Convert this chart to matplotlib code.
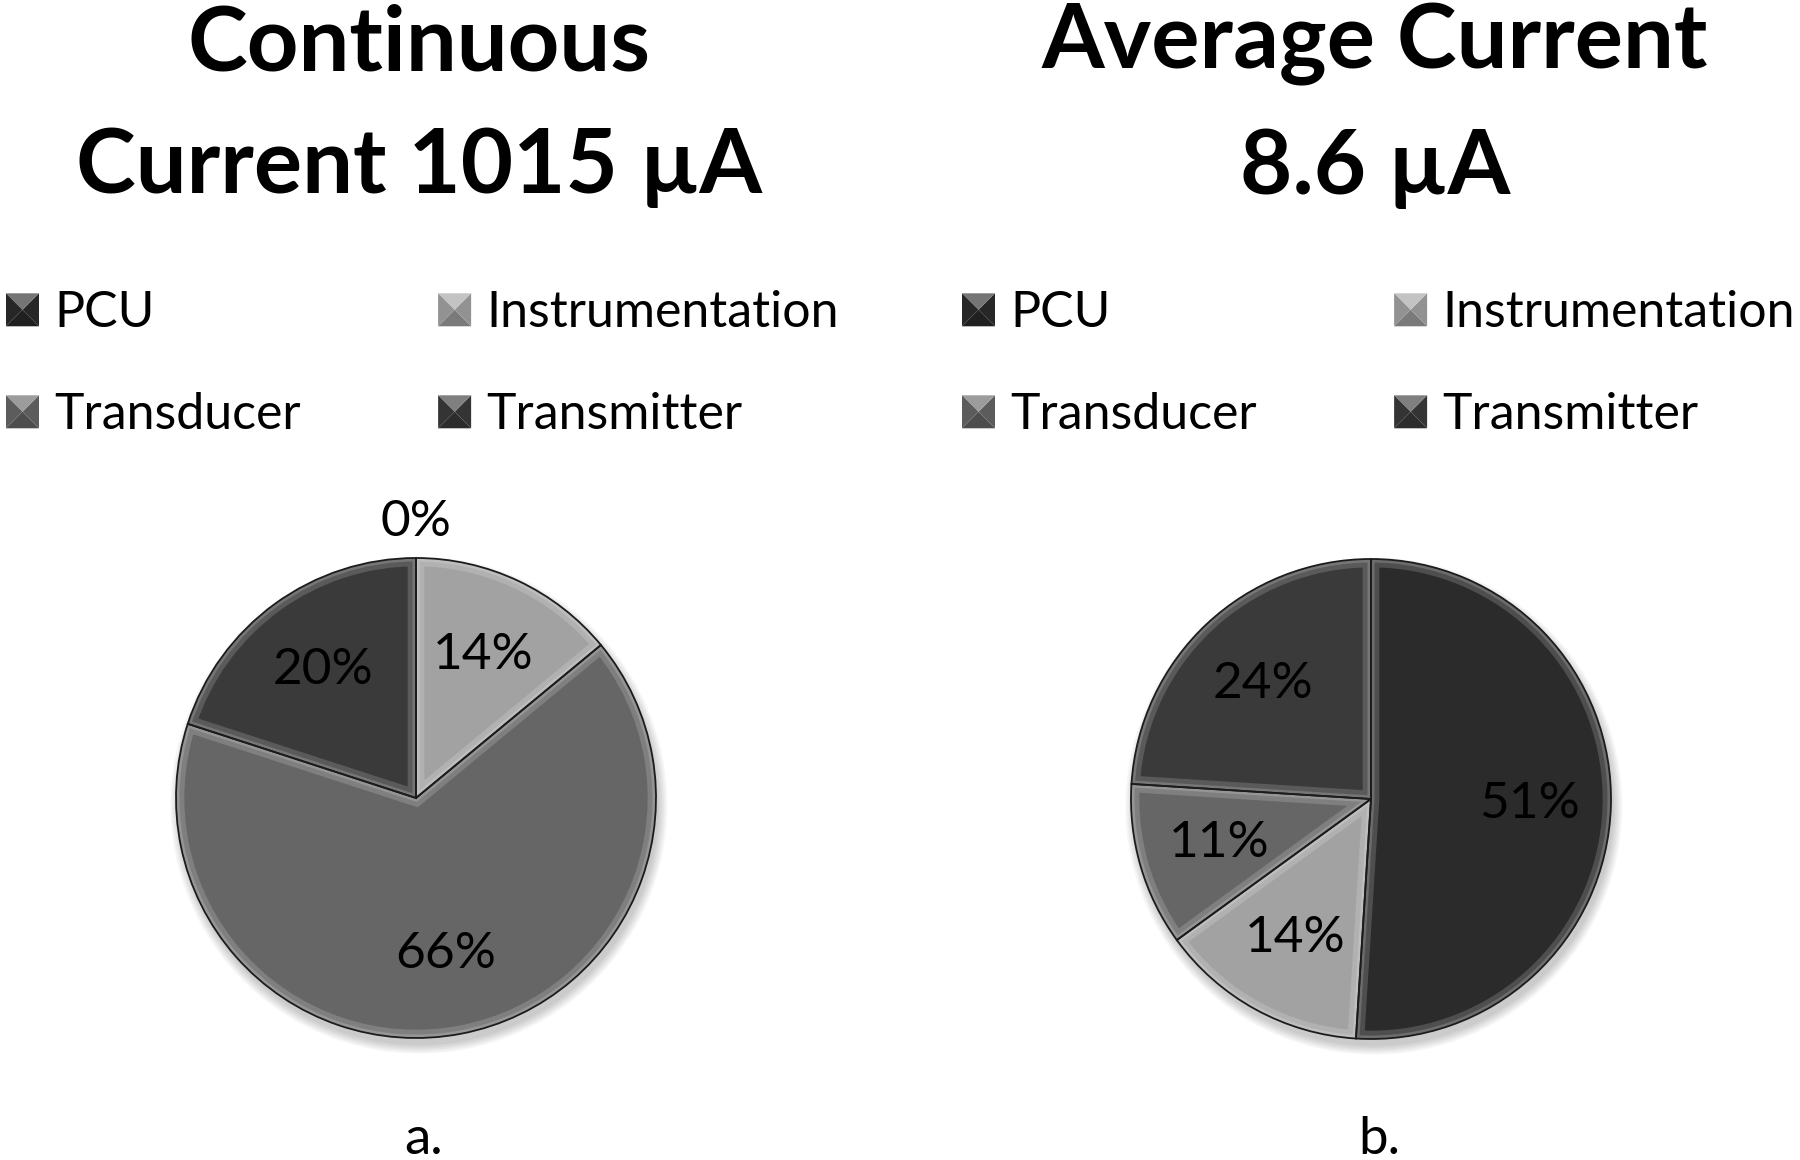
import matplotlib.pyplot as plt
from matplotlib.patches import Wedge, Polygon, Patch, Circle
from matplotlib.legend_handler import HandlerBase
from matplotlib.colors import to_rgb

plt.rcParams['font.family'] = ['Lato', 'DejaVu Sans']

labels = ["PCU", "Instrumentation", "Transducer", "Transmitter"]
continuous_pct = [0, 14, 66, 20]
average_pct = [51, 14, 11, 24]
colors = ["#2b2b2b", "#a2a2a2", "#666666", "#3a3a3a"]

titles = ["Continuous\nCurrent 1015 µA", "Average Current\n8.6 µA"]
captions = ["a.", "b."]


def mix(c, other, f):
    a = to_rgb(c)
    b = to_rgb(other)
    return tuple(a[i] * (1 - f) + b[i] * f for i in range(3))


class PyramidHandler(HandlerBase):
    # square legend key with the bevelled "pyramid" look
    def create_artists(self, legend, orig_handle, xdescent, ydescent,
                       width, height, fontsize, trans):
        c = orig_handle.get_facecolor()
        x0, y0 = -xdescent, -ydescent
        s = min(width, height)
        x0 = x0 + (width - s) / 2
        cx, cy = x0 + s / 2, y0 + s / 2
        corners = [(x0, y0), (x0 + s, y0), (x0 + s, y0 + s), (x0, y0 + s)]
        shades = [mix(c, 'black', 0.25), mix(c, 'black', 0.1),
                  mix(c, 'white', 0.35), mix(c, 'black', 0.1)]
        arts = []
        for i in range(4):
            p = Polygon([corners[i], corners[(i + 1) % 4], (cx, cy)],
                        closed=True, facecolor=shades[i], edgecolor='none',
                        transform=trans)
            arts.append(p)
        return arts


fig = plt.figure(figsize=(18, 11.6), dpi=100)

R_PX = 240
centers = [(416, 798), (1371, 799)]
title_x = [419, 1375]
legend_x = [6, 962]
all_values = [continuous_pct, average_pct]

for k in range(2):
    cx, cy = centers[k]
    half = 300
    ax = fig.add_axes([(cx - half) / 1800, (1160 - cy - half) / 1160,
                       2 * half / 1800, 2 * half / 1160])
    lim = half / R_PX
    ax.set_xlim(-lim, lim)
    ax.set_ylim(-lim, lim)
    ax.set_aspect('equal')
    ax.axis('off')

    # soft drop shadow
    for j in range(6):
        ax.add_patch(Circle((0.012, -0.03), 1.0 + 0.007 * j, color='black',
                            alpha=0.035, zorder=0, lw=0))

    wedges, texts, autotexts = ax.pie(
        all_values[k], colors=colors, startangle=90, counterclock=False,
        autopct=lambda p: f"{p:.0f}%", pctdistance=0.66, radius=1.0,
        wedgeprops=dict(edgecolor='none', linewidth=0),
        textprops=dict(fontsize=37, color='black'))

    for w, c in zip(wedges, colors):
        if abs(w.theta2 - w.theta1) > 0.01:
            hl = Wedge(w.center, w.r, w.theta1, w.theta2, facecolor='none',
                       edgecolor=mix(c, 'white', 0.3), linewidth=12,
                       alpha=0.55, zorder=1.5)
            ax.add_patch(hl)
            hl.set_clip_path(w)
            hl2 = Wedge(w.center, w.r, w.theta1, w.theta2, facecolor='none',
                        edgecolor=mix(c, 'white', 0.45), linewidth=5,
                        alpha=0.5, zorder=1.55)
            ax.add_patch(hl2)
            hl2.set_clip_path(w)
        ax.add_patch(Wedge(w.center, w.r, w.theta1, w.theta2,
                           facecolor='none', edgecolor='#1c1c1c',
                           linewidth=1.3, zorder=1.6))

    # zero-sized slices get their label outside the pie
    for w, t, v in zip(wedges, autotexts, all_values[k]):
        if v == 0:
            t.set_position((0, 1.15))

    fig.text(title_x[k] / 1800, 1 - 106 / 1160, titles[k], ha='center',
             va='center', fontsize=65, fontweight='bold', linespacing=1.6)

    order = [0, 2, 1, 3]
    handles = [Patch(facecolor=colors[i]) for i in order]
    fig.legend(handles, [labels[i] for i in order], ncol=2,
               loc='upper left',
               bbox_to_anchor=(legend_x[k] / 1800, 1 - 290 / 1160),
               frameon=False, fontsize=36, handlelength=0.66,
               handleheight=0.66, handletextpad=0.3, labelspacing=1.12,
               columnspacing=2.75, borderpad=0, borderaxespad=0,
               handler_map={Patch: PyramidHandler()})

    fig.text(cx / 1800 + 8 / 1800, 1 - 1140 / 1160, captions[k],
             ha='center', va='center', fontsize=38)

fig.savefig("out.png", dpi=100, facecolor='white')
